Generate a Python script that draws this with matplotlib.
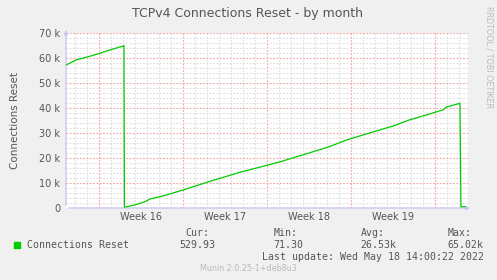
import matplotlib
matplotlib.use("Agg")
import matplotlib.pyplot as plt
from matplotlib.ticker import MultipleLocator, FuncFormatter

# days since start of week 16 (Mon 18 Apr 2022) vs. connections reset
days = [-2.67, -2.17, -1.89, -0.5, 1.0, 2.11, 2.15, 2.33, 3.0, 3.86, 4.28,
        5.5, 7.03, 9.5, 11.78, 13.4, 15.0, 17.6, 19.2, 20.67, 22.5, 24.53,
        25.94, 27.5, 28.72, 29.0, 30.11, 30.19, 30.53]
resets = [57300, 58500, 59200, 61000, 63300, 64900, 400, 500, 1200, 2500, 3600,
          5000, 7200, 11000, 14300, 16300, 18300, 22100, 24500, 27200, 29900, 32800,
          35300, 37500, 39300, 40400, 41900, 500, 530]

week_labels = ["Week 16", "Week 17", "Week 18", "Week 19"]
week_mid = [3.5, 10.5, 17.5, 24.5]

legend_name = "Connections Reset"
stat_names = ["Cur:", "Min:", "Avg:", "Max:"]
stat_values = ["529.93", "71.30", "26.53k", "65.02k"]
stat_x = [185.7, 273.3, 360.7, 447.7]
value_x = [179.0, 273.3, 360.7, 447.7]

W, H = 497, 280
bg = "#F0F0F0"
txt = "#555555"

fig = plt.figure(figsize=(W / 100, H / 100), dpi=100, facecolor=bg)
ax = fig.add_axes([66 / W, (H - 208) / H, 402 / W, 175 / H])
ax.set_facecolor("white")

ax.plot(days, resets, color="#00CC00", lw=0.9, zorder=5)

ax.set_xlim(-2.72, 30.78)
ax.set_ylim(0, 70000)

ax.xaxis.set_major_locator(MultipleLocator(7))
ax.xaxis.set_minor_locator(MultipleLocator(1))
ax.yaxis.set_major_locator(MultipleLocator(10000))
ax.yaxis.set_minor_locator(MultipleLocator(2000))
ax.grid(which="minor", color="#DDDDDD", lw=0.8, ls=(0, (1.5, 1.5)))
ax.grid(which="major", color="#F4A0A0", lw=0.8, ls=(0, (1.5, 1.5)))
ax.set_axisbelow(True)

ax.yaxis.set_major_formatter(FuncFormatter(lambda v, p: "0" if v == 0 else f"{v / 1000:.0f} k"))
ax.set_xticklabels([])
ax.tick_params(axis="both", which="both", length=0)
ax.tick_params(axis="y", labelsize=7, labelcolor=txt, pad=4)
for s in ax.spines.values():
    s.set_visible(False)

for m, lab in zip(week_mid, week_labels):
    ax.text(m, -0.05, lab, transform=ax.get_xaxis_transform(), ha="center", va="center",
            fontsize=7, color=txt)

ax.annotate("", xy=(0, 1 + 6 / 175), xytext=(0, 0), xycoords="axes fraction",
            arrowprops=dict(arrowstyle="-|>", color="#C8C8F0", lw=1, mutation_scale=6),
            annotation_clip=False)
ax.annotate("", xy=(1 + 5 / 402, 0), xytext=(0, 0), xycoords="axes fraction",
            arrowprops=dict(arrowstyle="-|>", color="#C8C8F0", lw=1, mutation_scale=6),
            annotation_clip=False)

ax.set_ylabel("Connections Reset", fontsize=7.5, color=txt, labelpad=14)


def ftext(x, y, s, **kw):
    fig.text(x / W, 1 - y / H, s, **kw)


ftext(248, 14, "TCPv4 Connections Reset - by month", ha="center", va="center",
      fontsize=9, color=txt)
ftext(489, 57, "RRDTOOL / TOBI OETIKER", ha="center", va="center", rotation=270,
      fontsize=5.8, color="#BBBBBB")

fig.patches.append(plt.Rectangle((14 / W, 1 - 248 / H), 6 / W, 6 / H,
                                 transform=fig.transFigure, color="#00CC00"))
ftext(26.7, 245.5, legend_name, ha="left", va="center", fontsize=7.1,
      family="DejaVu Sans Mono", color=txt)
for sx, vx, n, v in zip(stat_x, value_x, stat_names, stat_values):
    ftext(sx, 233.5, n, ha="left", va="center", fontsize=7.1, family="DejaVu Sans Mono", color=txt)
    ftext(vx, 245.5, v, ha="left", va="center", fontsize=7.1, family="DejaVu Sans Mono", color=txt)
ftext(483.5, 257.5, "Last update: Wed May 18 14:00:22 2022", ha="right", va="center",
      fontsize=7.1, family="DejaVu Sans Mono", color=txt)
ftext(248, 268.5, "Munin 2.0.25-1+deb8u3", ha="center", va="center", fontsize=5.8,
      color="#BBBBBB")

fig.savefig("out.png", dpi=100, facecolor=bg)
